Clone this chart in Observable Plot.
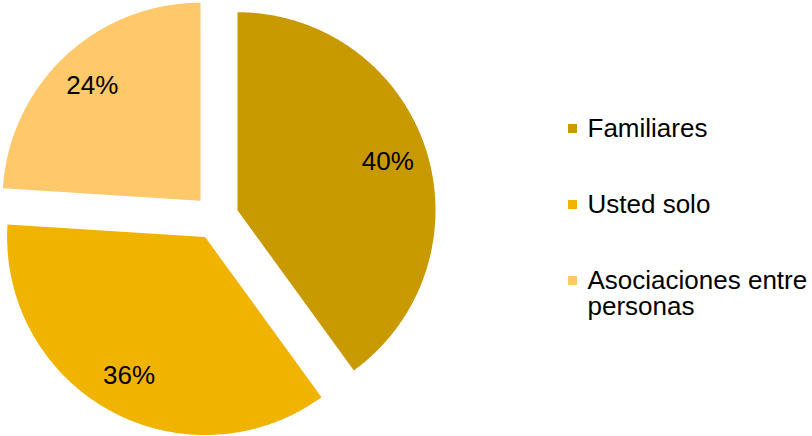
<!DOCTYPE html>
<html>
<head>
<meta charset="utf-8">
<script src="https://cdn.jsdelivr.net/npm/d3@7"></script>
<script src="https://cdn.jsdelivr.net/npm/@observablehq/plot@0.6"></script>
<style>
  html, body { margin: 0; padding: 0; background: #ffffff; }
  #chart svg { display: block; }
</style>
</head>
<body>
<div id="chart"></div>
<script>
// ---- data ----
const categories = ["Familiares", "Usted solo", "Asociaciones entre personas"];
const legendLabels = ["Familiares", "Usted solo", "Asociaciones entre\npersonas"];
const values = [40, 36, 24];
const valueLabels = ["40%", "36%", "24%"];
const colors = ["#C99900", "#F0B400", "#FFC86B"];

// ---- layout ----
const W = 812, H = 436;
const cx = 215.5, cy = 216.7, R = 198, explode = 22.6, labelR = 158;
const font = "Liberation Sans, Arial, Helvetica, sans-serif";

const total = d3.sum(values);
const cum = d3.cumsum(values);
const slices = values.map((v, i) => {
  const a0 = ((cum[i] - v) / total) * 2 * Math.PI;
  const a1 = (cum[i] / total) * 2 * Math.PI;
  const mid = (a0 + a1) / 2;
  const ax = cx + explode * Math.sin(mid);
  const ay = cy - explode * Math.cos(mid);
  return {category: categories[i], value: v, label: valueLabels[i], a0, a1, mid, ax, ay, i};
});

// polygon outline of each slice (apex + arc sampled along circle)
const outline = [];
for (const s of slices) {
  outline.push({category: s.category, x: s.ax, y: s.ay});
  const n = Math.max(2, Math.ceil((s.a1 - s.a0) / (Math.PI / 360)));
  for (let k = 0; k <= n; k++) {
    const a = s.a0 + (s.a1 - s.a0) * k / n;
    outline.push({category: s.category, x: s.ax + R * Math.sin(a), y: s.ay - R * Math.cos(a)});
  }
  outline.push({category: s.category, x: s.ax, y: s.ay});
}

const pieLabels = slices.map(s => ({
  label: s.label,
  x: s.ax + labelR * Math.sin(s.mid),
  y: s.ay - labelR * Math.cos(s.mid)
}));

const legend = categories.map((c, i) => ({
  category: c,
  text: legendLabels[i],
  x: 572,
  y: 128 + i * 76
}));

const chart = Plot.plot({
  width: W,
  height: H,
  margin: 0,
  style: {background: "#ffffff", fontFamily: font},
  x: {domain: [0, W], range: [0, W], axis: null},
  y: {domain: [0, H], range: [0, H], axis: null},
  color: {domain: categories, range: colors},
  marks: [
    Plot.line(outline, {x: "x", y: "y", z: "category", fill: "category", stroke: "none", curve: "linear-closed"}),
    Plot.text(pieLabels, {x: "x", y: "y", text: "label", fontSize: 26, fill: "#000000", textAnchor: "middle", lineAnchor: "middle"}),
    Plot.dot(legend, {x: "x", y: "y", fill: "category", symbol: "square", r: 5.1, stroke: "none"}),
    Plot.text(legend, {x: d => d.x + 15, y: "y", text: "text", fontSize: 26, fill: "#000000", textAnchor: "start", lineAnchor: "top", dy: -10, lineHeight: 1.0})
  ]
});

document.getElementById("chart").appendChild(chart);
</script>
</body>
</html>
